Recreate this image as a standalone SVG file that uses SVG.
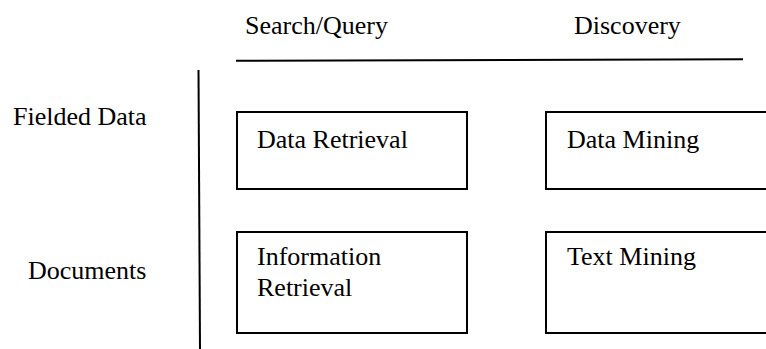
<svg xmlns="http://www.w3.org/2000/svg" width="766" height="349" viewBox="0 0 766 349">
<style>
text{font-family:"Liberation Serif","Times New Roman",serif;font-size:26px;fill:#000}
.box{fill:#fff;stroke:#000;stroke-width:2}
.ln{stroke:#000;stroke-width:2;fill:none}
</style>
<rect width="766" height="349" fill="#fff"/>
<g id="headers">
<text x="245" y="34">Search/Query</text>
<text x="574" y="34">Discovery</text>
<text x="13" y="125">Fielded Data</text>
<text x="28" y="279">Documents</text>
</g>
<g id="connectors">
<line class="ln" x1="236" y1="60.8" x2="743" y2="59.3"/>
<line class="ln" x1="198.5" y1="70" x2="200" y2="349"/>
</g>
<g id="data-retrieval">
<rect class="box" x="237" y="112" width="230" height="77"/>
<text x="257" y="148">Data Retrieval</text>
</g>
<g id="data-mining">
<rect class="box" x="546" y="112" width="240" height="77"/>
<text x="567" y="148">Data Mining</text>
</g>
<g id="information-retrieval">
<rect class="box" x="237" y="232" width="230" height="101"/>
<text x="257" y="265">Information</text>
<text x="257" y="296">Retrieval</text>
</g>
<g id="text-mining">
<rect class="box" x="546" y="232" width="240" height="101"/>
<text x="567" y="265">Text Mining</text>
</g>
</svg>
